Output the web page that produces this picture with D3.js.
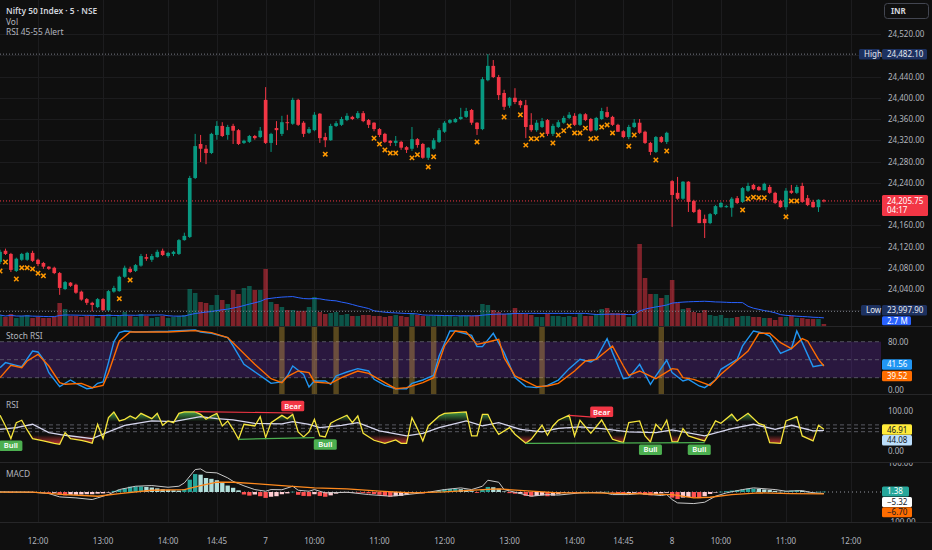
<!DOCTYPE html>
<html>
<head>
<meta charset="utf-8">
<script src="https://cdn.jsdelivr.net/npm/d3@7"></script>
<style>
html, body { margin: 0; padding: 0; background: #0f0f0f; }
svg { display: block; font-family: "Noto Sans", "DejaVu Sans", sans-serif; }
</style>
</head>
<body>
<svg id="chart" width="932" height="550"></svg>
<script>
// ---- data (bar index 0 = 11:25 of day 6, 5 minute bars) ----
const opens = [
24091,24112,24106,24074,24095,24095,24108,24095,24089,24082,
24080,24070,24040,24052,24048,24035,24021,24014,24006,24021,
24000,24035,24036,24063,24078,24074,24084,24100,24095,24100,
24112,24102,24106,24106,24132,24138,24249,24313,24304,24296,
24330,24347,24330,24347,24339,24315,24317,24328,24326,24396,
24315,24343,24332,24354,24351,24396,24353,24334,24339,24370,
24326,24320,24347,24349,24358,24364,24362,24371,24358,24353,
24341,24332,24319,24315,24317,24307,24304,24322,24313,24287,
24304,24317,24336,24353,24354,24360,24364,24377,24353,24341,
24433,24460,24439,24409,24385,24400,24394,24386,24349,24339,
24345,24358,24332,24345,24353,24362,24366,24349,24369,24360,
24339,24360,24373,24364,24349,24337,24326,24345,24353,24336,
24315,24298,24326,24317,24243,24221,24210,24242,24206,24189,
24172,24164,24181,24194,24194,24193,24211,24204,24225,24236,
24232,24226,24232,24221,24206,24194,24225,24221,24234,24211,
24204,24194,24207];
const highs = [
24114,24116,24108,24099,24108,24110,24112,24097,24091,24083,
24082,24072,24055,24053,24050,24037,24023,24016,24023,24023,
24038,24046,24065,24084,24082,24087,24106,24106,24106,24114,
24116,24110,24112,24134,24146,24253,24332,24330,24311,24334,
24356,24354,24349,24351,24341,24321,24330,24330,24345,24420,
24334,24356,24366,24368,24400,24398,24356,24345,24373,24371,
24334,24351,24356,24364,24371,24366,24375,24375,24360,24354,
24343,24334,24320,24328,24319,24309,24345,24324,24315,24307,
24324,24343,24356,24360,24362,24381,24381,24379,24354,24439,
24482.1,24471,24443,24415,24401,24418,24396,24396,24371,24358,
24362,24360,24351,24358,24366,24373,24371,24371,24371,24362,
24364,24381,24383,24366,24351,24339,24349,24360,24360,24338,
24317,24328,24328,24336,24245,24251,24243,24243,24208,24191,
24180,24183,24198,24204,24198,24213,24215,24232,24240,24238,
24234,24240,24236,24223,24208,24230,24236,24236,24240,24217,
24208,24209,24209];
const lows = [
24087,24104,24072,24072,24093,24093,24091,24083,24078,24076,
24068,24029,24038,24044,24031,24018,24010,23997.9,24004,23999,
23998,24033,24035,24061,24070,24072,24082,24093,24091,24099,
24102,24099,24102,24104,24131,24136,24247,24279,24275,24294,
24321,24326,24321,24313,24311,24313,24315,24321,24324,24313,
24298,24311,24328,24339,24349,24347,24326,24332,24337,24315,
24307,24319,24345,24347,24356,24358,24360,24354,24343,24337,
24326,24315,24309,24309,24302,24296,24300,24306,24285,24283,
24302,24315,24334,24351,24353,24358,24362,24349,24330,24339,
24431,24437,24396,24377,24381,24388,24381,24324,24336,24336,
24343,24328,24328,24343,24351,24360,24347,24347,24356,24336,
24337,24358,24362,24347,24336,24324,24322,24343,24332,24313,
24292,24296,24315,24313,24157,24208,24208,24185,24183,24164,
24136,24162,24179,24193,24193,24176,24200,24202,24223,24226,
24225,24225,24219,24200,24193,24189,24219,24219,24202,24196,
24193,24185,24203];
const closes = [
24110,24106,24076,24097,24106,24108,24093,24087,24082,24078,
24070,24042,24053,24046,24033,24020,24014,24010,24021,24000,
24036,24042,24063,24080,24072,24085,24102,24097,24102,24110,
24104,24108,24110,24132,24140,24249,24309,24304,24296,24332,
24347,24328,24345,24338,24313,24319,24328,24324,24338,24315,
24332,24339,24354,24353,24396,24349,24332,24341,24368,24324,
24320,24347,24352,24360,24366,24360,24371,24356,24349,24341,
24330,24317,24315,24319,24306,24302,24322,24311,24287,24306,
24320,24339,24353,24358,24360,24364,24375,24353,24341,24435,
24460,24439,24405,24383,24400,24392,24386,24345,24339,24353,
24356,24332,24347,24354,24362,24368,24349,24369,24358,24338,
24362,24375,24364,24349,24336,24326,24345,24353,24334,24315,
24298,24326,24317,24334,24217,24210,24242,24204,24185,24164,
24164,24181,24196,24202,24196,24210,24202,24230,24234,24228,
24226,24238,24221,24202,24194,24225,24221,24232,24204,24198,
24194,24208,24205.75];
// volume in millions
const volumes = [
3.3,2.7,3.6,2.4,3.0,3.3,2.4,2.7,2.4,2.4,
2.7,6.9,5.1,3.0,3.0,2.7,3.0,3.0,2.4,3.3,
3.6,2.7,3.0,4.2,3.0,2.7,3.6,3.0,2.4,2.7,
3.0,2.4,2.7,3.0,3.3,11.1,9.9,7.2,6.9,6.3,
9.3,7.8,6.6,10.8,9.6,11.4,12.0,10.8,10.8,17.1,
7.2,6.6,5.7,4.8,4.8,4.5,4.5,5.7,8.7,4.2,
3.6,3.9,4.2,3.3,3.6,3.0,3.0,3.3,3.3,3.0,
3.0,2.7,3.0,3.3,3.0,2.7,3.9,3.3,3.0,3.0,
3.0,3.3,3.0,3.0,2.7,3.0,3.0,3.0,3.3,6.6,
6.3,4.8,4.2,3.6,3.9,5.4,3.9,3.6,3.3,2.7,
2.7,3.6,3.0,3.0,2.7,3.0,2.7,3.6,3.0,3.0,
3.6,5.1,5.4,3.9,3.9,3.9,2.7,3.6,24.6,14.4,
9.6,9.6,8.4,9.3,13.8,6.9,5.1,5.4,4.2,3.9,
4.8,3.3,3.0,3.3,2.4,2.4,2.7,3.0,3.0,2.7,
2.7,2.4,2.4,1.8,2.7,2.7,3.0,2.4,2.4,2.1,
2.1,2.1,0.6];
// bars with the RSI 45-55 alert cross
const crossBars = [0,1,3,4,5,6,7,8,22,24,60,69,70,71,72,73,76,77,79,80,88,93,96,97,98,99,100,
  102,103,104,105,106,107,108,109,110,111,112,113,116,117,121,123,137,138,139,140,141,145,146,147];

// Stoch RSI [bar, value]
const stochK = [[0,36.8],[1,45.1],[3,40.6],[4,38.4],[6,64.5],[7,62.9],[8,50.6],[9,28.4],[11,5.1],[13,16.2],
  [14,10.6],[16,1.7],[17,2.9],[18,10.6],[19,12.9],[20,45.1],[21,80],[22,95],[23,97.9],[25,96.2],
  [31,97.3],[36,99.5],[37,96.2],[39,94],[42,86.8],[43,72.9],[45,42.3],[49,17.3],[50,10.6],[52,13],
  [53,22.9],[54,39.5],[56,25.6],[57,4.5],[58,14.5],[60,14.5],[61,9],[62,22.9],[64,29.5],[66,35.1],
  [68,31.2],[69,17.3],[71,7.3],[73,1.7],[75,1.7],[76,10.6],[78,16.2],[80,24],[81,56.2],[83,97.9],
  [84,97.9],[87,90.6],[88,71.8],[89,71.8],[91,94],[93,61.8],[95,20.1],[97,5.1],[99,3.4],[101,7.3],
  [103,16],[105,35.1],[107,50.6],[109,46.2],[110,51.8],[112,85.1],[113,61.8],[115,18.4],[116,20.1],[118,42.3],
  [120,9],[121,22.9],[123,49],[124,28.4],[126,14.5],[127,17.3],[129,6.2],[130,3.4],[132,16.2],[133,34],
  [136,50.6],[137,72.9],[139,97.9],[141,94],[142,89.5],[144,60.6],[146,68.4],[147,97.9],[148,78.4],[150,38.4],
  [152,41.56]];
const stochD = [[0,20.1],[2,40.6],[4,36.8],[5,47.9],[7,59],[9,39.5],[11,11.7],[12,9],[15,10.6],[17,3.4],
  [19,7.3],[20,28.4],[22,81.2],[24,96.2],[31,96.2],[36,98.4],[39,95.1],[42,86.8],[47,42.3],[50,18.4],
  [52,11.7],[53,21.8],[55,31.2],[57,28.4],[58,12.9],[61,10.6],[63,20.1],[66,31.2],[68,27.3],[71,11.7],
  [73,1.7],[75,3.4],[78,11.7],[80,20.1],[82,72.9],[84,97.9],[86,96.2],[88,75.6],[90,79.5],[92,84],
  [93,53.4],[95,22.9],[99,5.1],[101,6.2],[103,10.6],[106,31.2],[108,47.9],[110,50.6],[113,72.9],[115,39.5],
  [116,24],[118,31.2],[121,18.4],[124,35.1],[125,34],[126,20.1],[128,17.3],[131,7.3],[133,25.6],[138,64.5],
  [140,94],[142,94],[144,78.4],[146,68.4],[148,85.1],[149,81.2],[151,50.6],[152,39.52]];
const stochMarkBars = [52,58,62,73,76,80,100,122];

// RSI [bar, value]
const rsi = [[0,88.3],[1,56.9],[2,19.7],[3,66.7],[4,73.6],[5,45.1],[6,19.7],[8,12.8],[10,5.9],[11,3],
  [12,37.3],[13,19.7],[15,14.8],[16,10.8],[17,5.9],[18,61.8],[19,19.7],[20,81.4],[21,98.1],[22,71.6],
  [23,76.5],[24,86.3],[25,78.5],[26,94.1],[28,78.5],[29,94.1],[30,58.9],[31,71.6],[32,66.7],[33,94.1],
  [34,98.1],[36,98.1],[37,91.2],[38,76.5],[39,86.3],[40,94.1],[41,56.9],[42,71.6],[43,47.1],[44,17.7],
  [45,61.8],[47,56.9],[48,84.3],[49,22.6],[50,66.7],[52,88],[53,78.5],[54,91.2],[55,39.3],[56,24.6],
  [57,39.3],[58,76.5],[59,27.5],[60,24.6],[61,64.7],[62,73.6],[64,88.3],[65,66.7],[66,86.3],[67,35.3],
  [69,14.8],[71,5.9],[73,15.7],[74,5.9],[75,5.9],[76,81.4],[77,49.1],[78,12.8],[79,56.9],[81,86.3],
  [82,94.1],[86,98.1],[87,27.5],[88,27.5],[89,91.2],[90,91.2],[91,56.9],[92,32.4],[94,52],[95,32.4],
  [97,5.9],[98,17.7],[100,58.9],[101,29.5],[102,56.9],[103,73.6],[105,88.3],[106,27.5],[107,73.6],[109,35.3],
  [111,74.5],[113,17.7],[115,7.9],[116,66.7],[118,71.6],[119,27.5],[120,9.9],[121,61.8],[122,45.1],[123,73.6],
  [124,9.9],[125,9.9],[126,49.1],[127,27.5],[129,17.7],[130,12.8],[132,71.6],[133,64.7],[135,91.2],[136,71.6],
  [138,94.1],[140,63.8],[141,58.9],[142,7.9],[144,5.9],[145,71.6],[147,84.3],[148,27.5],[150,12.8],[151,58.9],
  [152,46.91]];
const rsiMa = [[0,47.1],[3,52],[6,61.8],[9,37.3],[12,29.5],[17,19.7],[20,39.3],[23,58.9],[28,71.6],[32,69.6],
  [35,78.5],[37,84.3],[40,78.5],[43,74.5],[47,64.7],[52,63],[54,69.6],[57,61.8],[59,52],[63,58.9],
  [66,66.7],[70,42.2],[75,27.5],[78,35.3],[81,52],[86,71.6],[89,56.9],[92,66.7],[96,47.1],[100,39.3],
  [103,50],[107,54],[111,49.1],[116,39.3],[121,37.3],[124,45.1],[130,27.5],[135,49.1],[139,61.8],[143,47.1],
  [146,58.9],[150,42.2],[152,44.08]];
const rsiLevels = [60, 50, 40];
const bearLines = [[[36,99],[54,95]], [[105,88.3],[110,82]]];
const bullLines = [[[44,17.7],[58,22.6]], [[97,5.9],[120,7]], [[120,7],[130,7.9]]];
const bearLabels = [[54,97],[111,80]];
const bullLabels = [[2,20],[60,24],[120,8],[129,8]];

// MACD [bar, value], histogram per bar
const macd = [[0,0.4],[6,-0.8],[9,-5.6],[11,-17.5],[14,-21],[17,-27],[18,-21],[20,-9],[22,8.7],[25,20.6],
  [28,23],[31,17],[33,20.6],[34,32.5],[36,80],[37,82.5],[38,70.6],[40,68.2],[42,50.4],[43,38],
  [44,30],[45,22],[47,8.7],[49,2.8],[50,8.7],[52,8],[54,20.6],[55,6.3],[57,2.8],[58,8.7],
  [60,-3.2],[64,-0.8],[68,-9.2],[72,-15.1],[75,-9.2],[79,-0.8],[82,8.7],[85,14.7],[87,8.7],[89,20.6],
  [90,42],[92,34.9],[93,8.7],[95,-0.8],[98,-15.1],[101,-9.2],[103,-11],[107,-3.2],[111,-0.8],[113,-9.2],
  [116,-9.2],[118,-5.6],[122,-12.7],[123,-9.2],[124,-27],[125,-38.9],[128,-41.3],[130,-36.5],[132,-15.1],[134,-3.2],
  [137,8.7],[139,14.7],[143,8.7],[145,2.8],[148,5.1],[150,-3.2],[152,-5.32]];
const signal = [[0,-0.8],[6,-0.8],[12,-9.2],[18,-15.1],[22,-5.6],[28,6.3],[34,8.7],[37,23],[40,34.9],[43,34.9],
  [47,30.1],[52,23],[58,14.7],[64,11.1],[70,2.8],[76,-3.2],[82,0.4],[89,8.7],[92,11.1],[98,2.8],
  [103,-3.2],[109,-3.2],[119,-6.8],[124,-9.2],[128,-21],[131,-18.7],[135,-9.2],[140,-3.2],[146,-5.6],[152,-6.7]];
const hist = [
0.5,0.5,-0.5,0.3,0.5,0.2,-0.5,-1,-2,-3,
-3,-10,-12,-10,-10,-9,-8,-8,-6,-5,
-1,4,8,13,19,20,20,18,16,13,
10,8,6,5,10,44,64,62,50,47,
42,32,23,15,6,-9,-13,-9,-15,-21,
-17,-15,-8,-5,1,-10,-14,-15,-8,-14,
-17,-12,-6,-3,-2,-1,-2,-3,-5,-7,
-10,-14,-17,-15,-14,-10,-3,-2,-5,-3,
1,5,9,11,11,10,8,3,-3,8,
18,17,12,2,-4,-6,-6,-14,-16,-14,
-12,-15,-13,-8,-3,-1,-3,-1,1,-2,
-1,0,1,-2,-4,-6,-5,-3,-5,-10,
-12,-8,-5,-3,-20,-25,-20,-18,-20,-22,
-15,-7,-2,1,3,5,6,9,12,12,
11,9,7,4,1,3,5,6,4,1,
0,1,1.38];

// axes
const timeBars = [7,19,31,40,49,58,70,82,94,106,115,124,133,145,157];
const timeLabels = ["12:00","13:00","14:00","14:45","7","10:00","11:00","12:00","13:00","14:00","14:45","8","10:00","11:00","12:00"];
const gridPrices = d3.range(24000, 24521, 40);
const priceLabels = [24520,24440,24400,24360,24320,24280,24240,24160,24120,24080,24040];

// ---- drawing ----
const svg = d3.select("#chart");
const plotR = 881;
const up = "#089981", down = "#f23645";
const x = d3.scaleLinear().domain([0, 157]).range([0.06, 851]);
const yP = d3.scaleLinear().domain([24040, 24520]).range([289, 34]);
const yV = d3.scaleLinear().domain([0, 24.6]).range([326, 244]);
const yS = d3.scaleLinear().domain([0, 100]).range([389.7, 329.7]);
const yR = d3.scaleLinear().domain([0, 100]).range([445.3, 411.3]);
const yM = d3.scaleLinear().domain([-100, 100]).range([520, 464]);
const step = x(1) - x(0);
const fmt = d3.format(",.2f");

svg.append("rect").attr("width", 932).attr("height", 550).attr("fill", "#0f0f0f");

const defs = svg.append("defs");
function clip(id, x0, y0, w, h) {
    defs.append("clipPath").attr("id", id).append("rect")
        .attr("x", x0).attr("y", y0).attr("width", w).attr("height", h);
}
clip("cMain", 0, 0, plotR, 326);
clip("cStoch", 0, 327, plotR, 67);
clip("cRsi", 0, 395, plotR, 67);
clip("cMacd", 0, 463, plotR, 59);
clip("cOB", 0, 395, plotR, yR(70) - 395);
clip("cOS", 0, yR(30), plotR, 462 - yR(30));
clip("aRsi", plotR, 446.5, 51, 15.5);
clip("aMacd", plotR, 463, 51, 59);

const gOB = defs.append("linearGradient").attr("id", "gOB").attr("gradientUnits", "userSpaceOnUse")
    .attr("x1", 0).attr("x2", 0).attr("y1", yR(100)).attr("y2", yR(70));
gOB.append("stop").attr("offset", 0).attr("stop-color", "#4caf50").attr("stop-opacity", 0.95);
gOB.append("stop").attr("offset", 1).attr("stop-color", "#4caf50").attr("stop-opacity", 0);
const gOS = defs.append("linearGradient").attr("id", "gOS").attr("gradientUnits", "userSpaceOnUse")
    .attr("x1", 0).attr("x2", 0).attr("y1", yR(30)).attr("y2", yR(0));
gOS.append("stop").attr("offset", 0).attr("stop-color", "#e53935").attr("stop-opacity", 0);
gOS.append("stop").attr("offset", 1).attr("stop-color", "#e53935").attr("stop-opacity", 0.95);

// grid
const grid = svg.append("g").attr("stroke", "#1c1c1e").attr("stroke-width", 1);
grid.selectAll(".vg").data(timeBars).enter().append("line")
    .attr("x1", d => Math.round(x(d)) + 0.5).attr("x2", d => Math.round(x(d)) + 0.5)
    .attr("y1", 0).attr("y2", 522);
grid.selectAll(".hg").data(gridPrices).enter().append("line")
    .attr("x1", 0).attr("x2", plotR)
    .attr("y1", d => Math.round(yP(d)) + 0.5).attr("y2", d => Math.round(yP(d)) + 0.5)
    .attr("clip-path", "url(#cMain)");

// ---- main pane ----
const main = svg.append("g").attr("clip-path", "url(#cMain)");
const isUp = i => closes[i] >= opens[i];

// volume
main.selectAll(".vol").data(volumes).enter().append("rect")
    .attr("x", (d, i) => x(i) - step * 0.42)
    .attr("width", step * 0.84)
    .attr("y", d => yV(d))
    .attr("height", d => 326 - yV(d))
    .attr("fill", (d, i) => isUp(i) ? "rgba(8,153,129,0.5)" : "rgba(242,54,69,0.5)");

// volume moving average (20)
const volMa = volumes.map((d, i) => {
    const w = volumes.slice(Math.max(0, i - 19), i + 1);
    return [i, d3.mean(w)];
});
main.append("path").datum(volMa)
    .attr("d", d3.line().x(d => x(d[0])).y(d => yV(d[1])))
    .attr("fill", "none").attr("stroke", "#2962ff").attr("stroke-width", 1);

// high / low / last dotted lines
const hiVal = d3.max(highs), loVal = d3.min(lows), last = closes[closes.length - 1];
[[hiVal, "#787b86", 858], [loVal, "#787b86", 860], [last, "#f23645", plotR]].forEach(([v, c, end]) => {
    main.append("line").attr("x1", 0).attr("x2", end)
        .attr("y1", yP(v)).attr("y2", yP(v))
        .attr("stroke", c).attr("stroke-width", 1).attr("stroke-dasharray", "1,2");
});

// candles
const candles = main.selectAll(".c").data(closes).enter().append("g");
candles.append("line")
    .attr("x1", (d, i) => x(i)).attr("x2", (d, i) => x(i))
    .attr("y1", (d, i) => yP(highs[i])).attr("y2", (d, i) => yP(lows[i]))
    .attr("stroke", (d, i) => isUp(i) ? up : down).attr("stroke-width", 1);
candles.append("rect")
    .attr("x", (d, i) => x(i) - step * 0.34)
    .attr("width", step * 0.68)
    .attr("y", (d, i) => yP(Math.max(opens[i], closes[i])))
    .attr("height", (d, i) => Math.max(1, Math.abs(yP(opens[i]) - yP(closes[i]))))
    .attr("fill", (d, i) => isUp(i) ? up : down);

// alert crosses below the bar
main.selectAll(".x").data(crossBars).enter().append("path")
    .attr("d", b => {
        const cx = x(b), cy = yP(lows[b]) + 7, r = 2.2;
        return `M${cx - r},${cy - r}L${cx + r},${cy + r}M${cx - r},${cy + r}L${cx + r},${cy - r}`;
    })
    .attr("stroke", "#ff9800").attr("stroke-width", 1.5).attr("fill", "none");

// ---- Stoch RSI pane ----
const st = svg.append("g").attr("clip-path", "url(#cStoch)");
st.append("rect").attr("x", 0).attr("width", plotR)
    .attr("y", yS(80)).attr("height", yS(20) - yS(80))
    .attr("fill", "rgba(120,50,200,0.26)");
[80, 50, 20].forEach(v => {
    st.append("line").attr("x1", 0).attr("x2", plotR).attr("y1", yS(v)).attr("y2", yS(v))
        .attr("stroke", "#787b86").attr("stroke-opacity", 0.6).attr("stroke-dasharray", "4,3");
});
st.selectAll(".mk").data(stochMarkBars).enter().append("rect")
    .attr("x", b => x(b) - step / 2).attr("width", step)
    .attr("y", 327).attr("height", 67)
    .attr("fill", "rgba(230,180,60,0.35)");
const lineS = d3.line().x(d => x(d[0])).y(d => yS(d[1]));
st.append("path").datum(stochK).attr("d", lineS).attr("fill", "none").attr("stroke", "#2196f3").attr("stroke-width", 1.4);
st.append("path").datum(stochD).attr("d", lineS).attr("fill", "none").attr("stroke", "#ff6d00").attr("stroke-width", 1.4);

// ---- RSI pane ----
const rs = svg.append("g").attr("clip-path", "url(#cRsi)");
rsiLevels.forEach(v => {
    rs.append("line").attr("x1", 0).attr("x2", plotR).attr("y1", yR(v)).attr("y2", yR(v))
        .attr("stroke", "#787b86").attr("stroke-opacity", 0.7).attr("stroke-dasharray", "4,3");
});
rs.append("path").datum(rsi).attr("clip-path", "url(#cOB)")
    .attr("d", d3.area().x(d => x(d[0])).y0(yR(70)).y1(d => yR(d[1])))
    .attr("fill", "url(#gOB)");
rs.append("path").datum(rsi).attr("clip-path", "url(#cOS)")
    .attr("d", d3.area().x(d => x(d[0])).y0(yR(30)).y1(d => yR(d[1])))
    .attr("fill", "url(#gOS)");
const lineR = d3.line().x(d => x(d[0])).y(d => yR(d[1]));
rs.append("path").datum(rsiMa).attr("d", lineR).attr("fill", "none").attr("stroke", "#d6d6ee").attr("stroke-width", 1.3);
rs.append("path").datum(rsi).attr("d", lineR).attr("fill", "none").attr("stroke", "#f5e53b").attr("stroke-width", 1.3);
bearLines.forEach(l => rs.append("path").datum(l).attr("d", lineR).attr("stroke", "#f23645").attr("stroke-width", 1.2));
bullLines.forEach(l => rs.append("path").datum(l).attr("d", lineR).attr("stroke", "#4caf50").attr("stroke-width", 1.2));

function tag(g, cx, y0, text, fill) {
    g.append("rect").attr("x", cx - 11.5).attr("y", y0).attr("width", 23).attr("height", 10.5)
        .attr("rx", 1.5).attr("fill", fill);
    g.append("text").attr("x", cx).attr("y", y0 + 7.9).attr("text-anchor", "middle")
        .attr("font-size", 7.6).attr("font-weight", 600).attr("fill", "#ffffff").text(text);
}
const tags = svg.append("g");
bearLabels.forEach(([b, v]) => tag(tags, x(b), yR(v) - 11.5, "Bear", "#f23645"));
bullLabels.forEach(([b, v]) => tag(tags, x(b), yR(v) + 2, "Bull", "#4caf50"));

// ---- MACD pane ----
const mc = svg.append("g").attr("clip-path", "url(#cMacd)");
mc.append("line").attr("x1", 0).attr("x2", plotR).attr("y1", yM(0)).attr("y2", yM(0))
    .attr("stroke", "#9598a1").attr("stroke-dasharray", "1,3");
mc.selectAll(".h").data(hist).enter().append("rect")
    .attr("x", (d, i) => x(i) - step * 0.4).attr("width", step * 0.8)
    .attr("y", d => Math.min(yM(d), yM(0)))
    .attr("height", d => Math.max(0.6, Math.abs(yM(d) - yM(0))))
    .attr("fill", (d, i) => {
        const p = i > 0 ? hist[i - 1] : d;
        if (d >= 0) return d >= p ? "#26a69a" : "#b2dfdb";
        return d < p ? "#ff5252" : "#ffcdd2";
    });
const lineM = d3.line().x(d => x(d[0])).y(d => yM(d[1]));
mc.append("path").datum(macd).attr("d", lineM).attr("fill", "none").attr("stroke", "#c8c8c8").attr("stroke-width", 1);
mc.append("path").datum(signal).attr("d", lineM).attr("fill", "none").attr("stroke", "#ff8a1e").attr("stroke-width", 1.3);

// pane separators
[326.5, 394.5, 462.5, 522.5].forEach(y => {
    svg.append("line").attr("x1", 0).attr("x2", 932).attr("y1", y).attr("y2", y)
        .attr("stroke", "#262628").attr("stroke-width", 1);
});

// ---- right price scale ----
const ax = svg.append("g").attr("font-size", 8).attr("fill", "#b2b5be");
ax.selectAll(".pl").data(priceLabels).enter().append("text")
    .attr("x", 888).attr("y", d => yP(d) + 3).text(d => fmt(d));
[[80, "80.00"], [0, "0.00"]].forEach(([v, t]) => ax.append("text").attr("x", 888).attr("y", yS(v) + 3).text(t));
ax.append("text").attr("x", 888).attr("y", yR(100) + 3).text("100.00");
// these sit partly under the value tags, as in the picture
ax.append("text").attr("x", 888).attr("y", yR(0) + 9).attr("clip-path", "url(#aRsi)").text("0.00");
ax.append("text").attr("x", 888).attr("y", yM(100) + 2).attr("clip-path", "url(#aMacd)").text("100.00");
ax.append("text").attr("x", 886).attr("y", yM(-100) + 5).attr("clip-path", "url(#aMacd)").text("\u2212100.00");

function box(x0, yc, w, text, fill, color, h) {
    h = h || 10.5;
    ax.append("rect").attr("x", x0).attr("y", yc - h / 2).attr("width", w).attr("height", h)
        .attr("rx", 1.5).attr("fill", fill);
    ax.append("text").attr("x", x0 + 5).attr("y", yc + 2.9).attr("fill", color).text(text);
}
// volume MA tag (partly hidden under the Low tag)
box(882, yV(volMa[volMa.length - 1][1]) + 3, 29, "2.7 M", "#2962ff", "#ffffff", 9);
// high / low tags
box(859, yP(hiVal), 21, "High", "#1d3160", "#e6e8ef");
box(882, yP(hiVal), 45, fmt(hiVal), "#1d3160", "#e6e8ef");
box(861, yP(loVal) - 1, 20, "Low", "#1d3160", "#e6e8ef");
box(882, yP(loVal) - 1, 45, fmt(loVal), "#1d3160", "#e6e8ef");
// last price tag
ax.append("rect").attr("x", 882).attr("y", yP(last) - 6).attr("width", 46).attr("height", 21)
    .attr("rx", 1.5).attr("fill", "#f23645");
ax.append("text").attr("x", 887).attr("y", yP(last) + 2.8).attr("fill", "#ffffff").text(fmt(last));
ax.append("text").attr("x", 887).attr("y", yP(last) + 12).attr("fill", "#ffffff").text("04:17");
// indicator value tags
const kLast = stochK[stochK.length - 1][1], dLast = stochD[stochD.length - 1][1];
box(882, 364.5, 30, kLast.toFixed(2), "#2196f3", "#ffffff");
box(882, 376, 30, dLast.toFixed(2), "#ff6d00", "#ffffff");
box(882, 429.6, 30, rsi[rsi.length - 1][1].toFixed(2), "#ffeb3b", "#131722");
box(882, 440.2, 30, rsiMa[rsiMa.length - 1][1].toFixed(2), "#bbdefb", "#131722");
box(882, 491.5, 27, hist[hist.length - 1].toFixed(2), "#26a69a", "#ffffff", 10);
box(882, 502, 30, "\u2212" + Math.abs(macd[macd.length - 1][1]).toFixed(2), "#ffffff", "#131722", 10);
box(882, 512.3, 30, "\u2212" + Math.abs(signal[signal.length - 1][1]).toFixed(2), "#ff6d00", "#131722", 10);

// currency box
svg.append("rect").attr("x", 884.5).attr("y", 3.5).attr("width", 44).attr("height", 15)
    .attr("rx", 3).attr("fill", "none").attr("stroke", "#434651");
svg.append("text").attr("x", 891).attr("y", 14).attr("font-size", 8).attr("font-weight", 700)
    .attr("fill", "#d1d4dc").text("INR");

// ---- time axis ----
svg.append("g").attr("font-size", 8).attr("fill", "#b2b5be").attr("text-anchor", "middle")
    .selectAll("text").data(timeBars).enter().append("text")
    .attr("x", d => x(d)).attr("y", 544).text((d, i) => timeLabels[i]);

// ---- titles ----
const tt = svg.append("g").attr("font-size", 8.4).attr("fill", "#b2b5be");
tt.append("text").attr("x", 6).attr("y", 14).attr("font-weight", 600).attr("fill", "#d1d4dc").text("Nifty 50 Index \u00b7 5 \u00b7 NSE");
tt.append("text").attr("x", 6).attr("y", 24.5).text("Vol");
tt.append("text").attr("x", 6).attr("y", 35).text("RSI 45-55 Alert");
tt.append("text").attr("x", 6).attr("y", 339).text("Stoch RSI");
tt.append("text").attr("x", 6).attr("y", 408).text("RSI");
tt.append("text").attr("x", 6).attr("y", 477).text("MACD");
</script>
</body>
</html>
